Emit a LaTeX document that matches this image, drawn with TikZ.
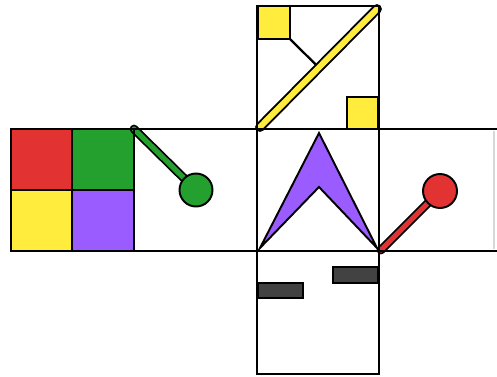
\documentclass[tikz,border=0pt]{standalone}
\usepackage{xcolor}
\definecolor{cubered}{RGB}{226,50,50}
\definecolor{cubegreen}{RGB}{36,160,46}
\definecolor{cubeyellow}{RGB}{255,236,60}
\definecolor{cubepurple}{RGB}{155,92,255}
\definecolor{cubedark}{RGB}{66,66,66}
\definecolor{cubefaint}{RGB}{215,215,215}
\usetikzlibrary{calc}

\begin{document}
\begin{tikzpicture}[x=0.02cm,y=-0.02cm,
  edge/.style={draw,line width=1.4pt},
  tile/.style={draw,line width=1.4pt},
  stickout/.style={line width=5pt,line cap=round,black},
  ball/.style={draw,line width=1.1pt}]
  \useasboundingbox (0,0) rectangle (497,376);
  % Colour block on the left face
  \filldraw[tile,fill=cubered] (11,129) rectangle (134,190);
  \filldraw[tile,fill=cubegreen] (72,129) rectangle (134,190);
  \filldraw[tile,fill=cubeyellow] (11,190) rectangle (72,251);
  \filldraw[tile,fill=cubepurple] (72,190) rectangle (134,251);
  \draw[tile] (11,129) rectangle (134,251);
  % Green lollipop
  \coordinate (gbase) at (134,129);
  \coordinate (gball) at (196,190);
  \draw[stickout] (gbase) -- (gball);
  \draw[line width=3pt,cubegreen,line cap=round] (gbase) -- (gball);
  \filldraw[ball,fill=cubegreen] (gball) circle (16.5);
  % Top face: yellow squares and diagonal
  \filldraw[tile,fill=cubeyellow] (258,6) rectangle (290,39);
  \filldraw[tile,fill=cubeyellow] (347,97) rectangle (378,129);
  \coordinate (dlow) at (260,127);
  \coordinate (dhigh) at (377,9);
  \coordinate (corner) at (290,39);
  \draw[line width=1.3pt] (corner) -- ($(dlow)!(corner)!(dhigh)$);
  \draw[line width=5.6pt,line cap=round] (dlow) -- (dhigh);
  \draw[line width=3.4pt,cubeyellow,line cap=round] (dlow) -- (dhigh);
  % Front face: purple arrowhead
  \filldraw[line width=1.1pt,line join=miter,fill=cubepurple]
    (319,133) -- (377,248) -- (319,187) -- (260,248) -- cycle;
  % Red lollipop
  \coordinate (rbase) at (381,250);
  \coordinate (rball) at (440,191);
  \draw[stickout] (rbase) -- (rball);
  \draw[line width=3pt,cubered,line cap=round] (rbase) -- (rball);
  \filldraw[ball,fill=cubered] (rball) circle (17);
  % Bottom face: dark bars
  \filldraw[tile,fill=cubedark] (258,283) rectangle (303,298);
  \filldraw[tile,fill=cubedark] (333,267) rectangle (378,283);
  % Net outline
  \draw[edge] (257,6) rectangle (379,374);
  \draw[edge] (11,129) -- (497,129);
  \draw[edge] (11,251) -- (497,251);
  \draw[edge] (11,129) -- (11,251);
  \draw[edge] (134,129) -- (134,251);
  \draw[cubefaint,line width=0.8pt] (494,131) -- (494,249);
\end{tikzpicture}
\end{document}
